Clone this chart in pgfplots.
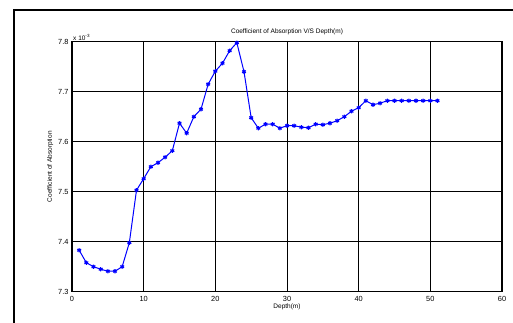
\documentclass[border=0pt]{standalone}
\usepackage{fontspec}
\setmainfont{Liberation Sans}
\usepackage{pgfplots}
\pgfplotsset{compat=1.18}
\begin{document}
\begin{tikzpicture}
\begin{axis}[
  name=ax, at={(0,0)}, anchor=south west,
  scale only axis, width=430pt, height=250pt,
  xmin=0, xmax=60, ymin=7.3, ymax=7.8,
  xtick={0,10,...,60}, ytick={7.3,7.4,...,7.8},
  yticklabel style={/pgf/number format/fixed,/pgf/number format/precision=1,/pgf/number format/fixed zerofill},
  /pgf/number format/assume math mode=true,
  tick label style={font=\fontsize{7.4}{8}\selectfont},
  xticklabel style={yshift=-1pt},
  major tick length=0pt,
  grid=major, major grid style={black, line width=0.9pt},
  axis line style={line width=1.1pt},
  title={Coefficient of Absorption V/S Depth(m)},
  title style={font=\fontsize{6.5}{7}\selectfont, yshift=-3pt},
  xlabel={Depth(m)}, ylabel={Coefficient of Absorption},
  label style={font=\fontsize{6.5}{7}\selectfont},
  xlabel style={yshift=5pt},
  ylabel style={yshift=-2pt},
  clip=false,
]
\addplot[blue, line width=1pt, mark=asterisk, mark size=2.2pt, mark options={line width=1.1pt}] coordinates {
(1,7.383) (2,7.358) (3,7.350) (4,7.345) (5,7.341) (6,7.341) (7,7.350) (8,7.398)
(9,7.503) (10,7.526) (11,7.550) (12,7.558) (13,7.569) (14,7.582) (15,7.637)
(16,7.617) (17,7.650) (18,7.665) (19,7.715) (20,7.741) (21,7.757) (22,7.782)
(23,7.798) (24,7.740) (25,7.648) (26,7.627) (27,7.635) (28,7.635) (29,7.627)
(30,7.632) (31,7.632) (32,7.629) (33,7.628) (34,7.635) (35,7.634) (36,7.637)
(37,7.642) (38,7.650) (39,7.661) (40,7.668) (41,7.682) (42,7.674) (43,7.677)
(44,7.682) (45,7.682) (46,7.682) (47,7.682) (48,7.682) (49,7.682) (50,7.682) (51,7.682)
};
\node[anchor=south west, font=\fontsize{6.5}{7}\selectfont, inner sep=1pt] at (rel axis cs:0,1) {x 10\textsuperscript{-3}};
\end{axis}
\draw[line width=1.3pt] ([shift={(-58pt,-45pt)}]ax.south west) |- ([shift={(460pt,281.7pt)}]ax.south west);
\pgfresetboundingbox
\path[use as bounding box] ([shift={(-72pt,-30.3pt)}]ax.south west) rectangle ++(513pt,322pt);
\end{tikzpicture}
\end{document}
